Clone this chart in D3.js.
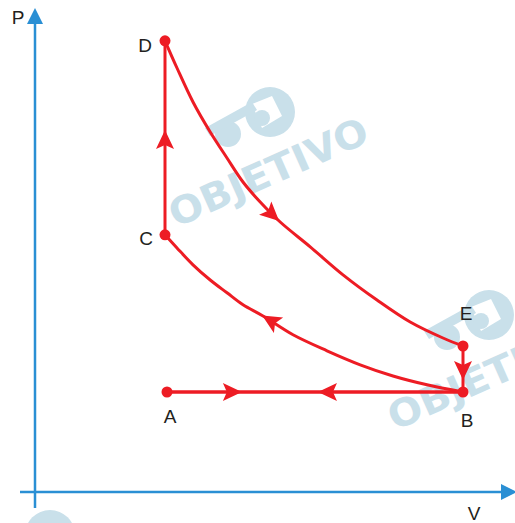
<!DOCTYPE html>
<html>
<head>
<meta charset="utf-8">
<script src="https://cdn.jsdelivr.net/npm/d3@7"></script>
<style>
    html, body { margin: 0; padding: 0; background: #fff; }
    svg { display: block; }
</style>
</head>
<body>
<div id="app"></div>
<script>
// states of the gas (V, P in arbitrary units)
const stateNames = ["A", "B", "C", "D", "E"];
const stateV = [3.3, 10.7, 3.25, 3.25, 10.7];
const stateP = [2.5, 2.5, 6.43, 11.28, 3.65];

// curve D -> E
const curveDEV = [3.25, 3.55, 3.95, 4.38, 4.8, 5.2, 5.63, 6.13, 6.88, 7.7, 8.55, 9.38, 10.2, 10.7];
const curveDEP = [11.28, 10.6, 9.75, 9.0, 8.35, 7.75, 7.25, 6.75, 6.13, 5.43, 4.8, 4.25, 3.85, 3.65];

// curve C -> B (travelled from B to C)
const curveCBV = [3.25, 3.55, 3.95, 4.38, 4.8, 5.2, 5.7, 6.45, 7.3, 8.13, 8.95, 9.8, 10.7];
const curveCBP = [6.43, 6.1, 5.68, 5.3, 4.98, 4.68, 4.4, 3.93, 3.53, 3.18, 2.9, 2.68, 2.5];

const width = 515;
const height = 523;
const red = "#ed1c24";
const blue = "#2a8fd4";
const ink = "#231f20";
const wmColor = "#c9e0ea";

const svg = d3
    .select("#app")
    .append("svg")
    .attr("width", width)
    .attr("height", height);

// scales: 40px per unit, origin where the axes cross
const x = d3.scaleLinear().domain([0, 12.05]).range([35, 517]);
const y = d3.scaleLinear().domain([0, 12.1]).range([492, 8]);

// watermark
const watermark = svg.append("g").attr("fill", wmColor);
[[0, 0], [219, 203]].forEach(([ox, oy]) => {
    const w = watermark.append("g").attr("transform", `translate(${ox},${oy})`);
    w.append("circle").attr("cx", 270).attr("cy", 112).attr("r", 25);
    w.append("path")
        .attr("d", "M252,104 L272,96 L282,116 L262,128 Z")
        .attr("fill", "#fff");
    w.append("circle").attr("cx", 262).attr("cy", 118).attr("r", 8);
    w.append("circle").attr("cx", 228).attr("cy", 134).attr("r", 13);
    w.append("path")
        .attr("d", "M205,128 L252,102 L257,110 L210,136 Z");
    w.append("text")
        .attr("transform", "translate(176,228) rotate(-24)")
        .attr("font-family", "'DejaVu Sans', Arial, sans-serif")
        .attr("font-weight", "bold")
        .attr("font-size", 38)
        .attr("textLength", 214)
        .attr("lengthAdjust", "spacingAndGlyphs")
        .text("OBJETIVO");
});
watermark.append("circle").attr("cx", 50).attr("cy", 535).attr("r", 25);

// axes
const axes = svg.append("g").attr("stroke", blue).attr("stroke-width", 2.5);
axes.append("line")
    .attr("x1", x(0)).attr("x2", x(0))
    .attr("y1", y(0) + 16).attr("y2", y(12.1) + 12);
axes.append("line")
    .attr("x1", x(0) - 15).attr("x2", x(12.05) - 12)
    .attr("y1", y(0)).attr("y2", y(0));
svg.append("path")
    .attr("fill", blue)
    .attr("d", `M${x(0)},${y(12.1)} L${x(0) - 8},${y(12.1) + 16} L${x(0) + 8},${y(12.1) + 16} Z`);
svg.append("path")
    .attr("fill", blue)
    .attr("d", `M${x(12.05)},${y(0)} L${x(12.05) - 16},${y(0) - 8} L${x(12.05) - 16},${y(0) + 8} Z`);

const axisFont = (t) => t
    .attr("font-family", "'Liberation Sans', Arial, Helvetica, sans-serif")
    .attr("font-size", 19)
    .attr("fill", ink)
    .attr("text-anchor", "middle");
svg.append("text").call(axisFont).attr("x", 18).attr("y", 24).text("P");
svg.append("text").call(axisFont).attr("x", 474).attr("y", 520).text("V");

// processes
const st = (name) => {
    const i = stateNames.indexOf(name);
    return [stateV[i], stateP[i]];
};
const zipPts = (vs, ps) => vs.map((v, i) => [v, ps[i]]);

const processes = [
    { pts: [st("A"), st("B")], arrowAt: 0.253 },
    { pts: [st("B"), st("A")], arrowAt: 0.49 },
    { pts: [st("C"), st("D")], arrowAt: 0.54 },
    { pts: zipPts(curveDEV, curveDEP), arrowAt: 0.49 },
    { pts: [st("E"), st("B")], arrowAt: 0.74 },
    { pts: zipPts(curveCBV, curveCBP).reverse(), arrowAt: 0.63 },
];

const line = d3
    .line()
    .x((d) => x(d[0]))
    .y((d) => y(d[1]))
    .curve(d3.curveCatmullRom.alpha(0.5));

const paths = svg.append("g");
processes.forEach((p) => {
    const path = paths
        .append("path")
        .attr("d", line(p.pts))
        .attr("fill", "none")
        .attr("stroke", red)
        .attr("stroke-width", 3);
    const el = path.node();
    const len = el.getTotalLength();
    const tip = el.getPointAtLength(p.arrowAt * len);
    const back = el.getPointAtLength(p.arrowAt * len - 3);
    const angle = (Math.atan2(tip.y - back.y, tip.x - back.x) * 180) / Math.PI;
    paths
        .append("path")
        .attr("d", "M0,0 L-19,-9 L-15,0 L-19,9 Z")
        .attr("fill", red)
        .attr("transform", `translate(${tip.x},${tip.y}) rotate(${angle})`);
});

// state points and labels
const labelOffset = { A: [3, 31], B: [4, 35], C: [-19, 10], D: [-20, 11], E: [3, -26] };
const states = svg
    .append("g")
    .selectAll("g")
    .data(stateNames)
    .enter()
    .append("g")
    .attr("transform", (d, i) => `translate(${x(stateV[i])},${y(stateP[i])})`);
states.append("circle").attr("r", 5.5).attr("fill", red);
states.append("text")
    .call(axisFont)
    .attr("x", (d) => labelOffset[d][0])
    .attr("y", (d) => labelOffset[d][1])
    .text((d) => d);
</script>
</body>
</html>
